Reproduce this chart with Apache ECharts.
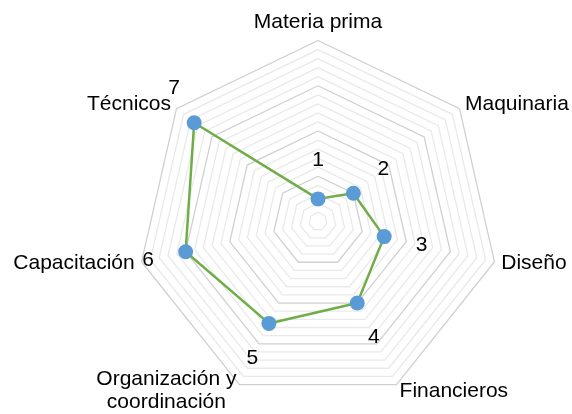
<!DOCTYPE html>
<html>
    <head>
        <meta charset="utf-8">
        <title>Radar</title>
        <script src="https://cdn.jsdelivr.net/npm/echarts@6.0.0/dist/echarts.min.js"></script>
    </head>
    <body style="margin:0;background:#fff;">
        <div id="chart" style="width: 572px;height: 414px;"></div>
        <script>
            // data, clockwise from the top
            var categories = ['Materia prima', 'Maquinaria', 'Diseño', 'Financieros', 'Organización y\ncoordinación', 'Capacitación', 'Técnicos'];
            var values = [1, 2, 3, 4, 5, 6, 7];
            var axisMax = 8;
            var ringCount = 20;   // minor rings every 0.4, major every 2

            var labelGap = 1.7;   // data labels sit a bit outside the points
            var movedLabels = ['Técnicos'];   // this one was dragged up/right in the original
            var font = 'Liberation Sans, Arial, sans-serif';

            // echarts goes counter-clockwise, so flip the order after the first one
            var order = [0];
            for (var i = categories.length - 1; i > 0; i--) order.push(i);

            var indicator = order.map(function (i) {
                return { name: categories[i], min: 0, max: axisMax };
            });
            var lineValues = order.map(function (i) { return values[i]; });
            var labelValues = order.map(function (i) { return values[i] + labelGap; });

            var option = {
                animation: false,
                radar: {
                    center: [318, 221.5],
                    radius: 181,
                    startAngle: 90,
                    splitNumber: ringCount,
                    shape: 'polygon',
                    indicator: indicator,
                    axisNameGap: 7,
                    axisName: {
                        color: '#000',
                        fontSize: 21,
                        fontFamily: font,
                        formatter: function (name) {
                            return name.split('\n').map(function (s) {
                                return '{c|' + s + '}';
                            }).join('\n');
                        },
                        rich: {
                            c: { align: 'center', fontSize: 21, fontFamily: font, color: '#000', lineHeight: 23 }
                        }
                    },
                    axisLine: { show: false },
                    axisTick: { show: false },
                    axisLabel: { show: false },
                    splitArea: { show: false },
                    splitLine: {
                        lineStyle: {
                            color: ['#d0d0d0', '#e9e9e9', '#e9e9e9', '#e9e9e9', '#e9e9e9'],
                            width: 1.3
                        }
                    }
                },
                series: [
                    {
                        name: 'valores',
                        type: 'radar',
                        symbol: 'circle',
                        symbolSize: 15,
                        lineStyle: { color: '#70AD47', width: 2.5 },
                        itemStyle: { color: '#5B9BD5' },
                        data: [{ value: lineValues }]
                    },
                    {
                        name: 'etiquetas',
                        type: 'radar',
                        silent: true,
                        symbol: 'circle',
                        symbolSize: 1,
                        lineStyle: { width: 0, opacity: 0 },
                        itemStyle: { color: 'rgba(0,0,0,0)' },
                        label: {
                            show: true,
                            position: 'inside',
                            color: '#000',
                            fontSize: 21,
                            fontFamily: font,
                            formatter: function (p) {
                                var v = Math.round(p.value - labelGap);
                                var idx = values.indexOf(v);
                                if (movedLabels.indexOf(categories[idx]) >= 0) return '{m|' + v + '}';
                                return '{n|' + v + '}';
                            },
                            rich: {
                                n: { fontSize: 21, fontFamily: font, color: '#000' },
                                m: { fontSize: 21, fontFamily: font, color: '#000', padding: [0, 0, 22, 20] }
                            }
                        },
                        data: [{ value: labelValues }]
                    }
                ]
            };

            var chart = echarts.init(document.getElementById('chart'));
            chart.setOption(option);
        </script>
    </body>
</html>
